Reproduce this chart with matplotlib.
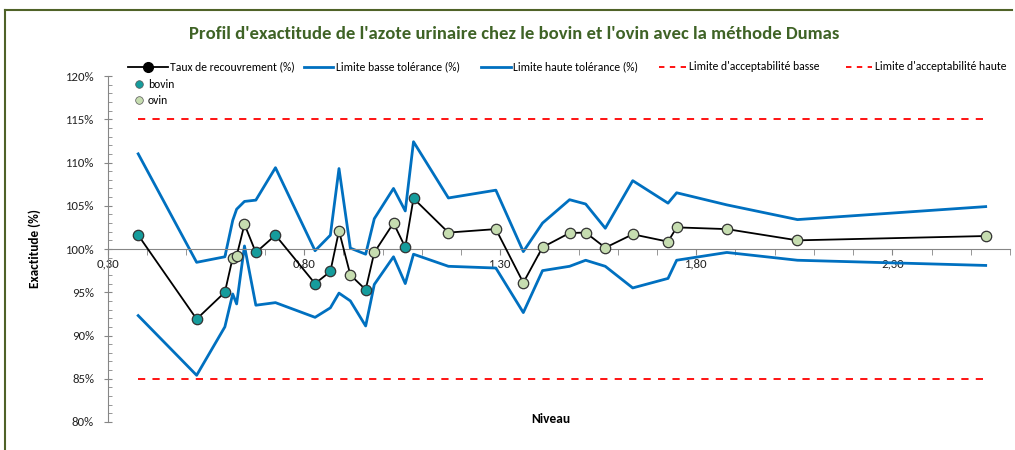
import matplotlib
matplotlib.use("Agg")
import matplotlib.pyplot as plt
from matplotlib.lines import Line2D
from matplotlib.ticker import FixedLocator, MultipleLocator, FuncFormatter
from matplotlib import font_manager

_names = {f.name for f in font_manager.fontManager.ttflist}
_fam = 'Carlito' if 'Carlito' in _names else 'Liberation Sans'
plt.rcParams['font.family'] = [_fam, 'DejaVu Sans']
narrow = _fam == 'Carlito'
k = 1.12 if narrow else 1.0

niveau = [0.377, 0.526, 0.598, 0.618, 0.628, 0.648, 0.677, 0.727, 0.828, 0.867,
          0.889, 0.918, 0.957, 0.979, 1.028, 1.058, 1.079, 1.168, 1.289, 1.359,
          1.408, 1.477, 1.518, 1.568, 1.638, 1.728, 1.750, 1.878, 2.058, 2.538]
taux = [101.6, 91.9, 95.0, 99.0, 99.2, 102.85, 99.6, 101.6, 96.0, 97.4,
        102.1, 97.0, 95.3, 99.6, 103.0, 100.2, 105.85, 101.9, 102.3, 96.1,
        100.2, 101.85, 101.9, 100.15, 101.7, 100.85, 102.5, 102.3, 101.0, 101.5]
espece = ['bovin', 'bovin', 'bovin', 'ovin', 'ovin', 'ovin', 'bovin', 'bovin', 'bovin', 'bovin',
          'ovin', 'ovin', 'bovin', 'ovin', 'ovin', 'bovin', 'bovin', 'ovin', 'ovin', 'ovin',
          'ovin', 'ovin', 'ovin', 'ovin', 'ovin', 'ovin', 'ovin', 'ovin', 'ovin', 'ovin']
tol_basse = [92.3, 85.4, 91.0, 94.8, 93.65, 100.35, 93.5, 93.8, 92.1, 93.2,
             94.9, 94.0, 91.1, 95.9, 99.1, 96.0, 99.4, 98.0, 97.8, 92.65,
             97.5, 98.0, 98.7, 98.0, 95.5, 96.6, 98.7, 99.6, 98.7, 98.1]
tol_haute = [111.0, 98.46, 99.1, 103.3, 104.6, 105.5, 105.65, 109.4, 99.8, 101.6,
             109.3, 100.1, 99.4, 103.5, 107.0, 104.4, 112.4, 105.9, 106.8, 99.7,
             103.0, 105.7, 105.2, 102.4, 107.9, 105.3, 106.5, 105.1, 103.4, 104.9]
accept_basse = 85
accept_haute = 115
x_ticks = [0.30, 0.80, 1.30, 1.80, 2.30]

title = "Profil d'exactitude de l'azote urinaire chez le bovin et l'ovin avec la méthode Dumas"

W, H = 1015, 450
fig = plt.figure(figsize=(W/100, H/100), dpi=100)
ax = fig.add_axes([108/W, 1-422/H, (1010-108)/W, (422-76)/H])

def fx(px):
    return px / W

def fy(py):
    return 1 - py / H

blue = '#0070C0'
teal = '#169C9C'
green_l = '#C6DDB0'
axcol = '#868686'
red = '#FF0000'
title_col = '#3F6326'

ax.plot(niveau, tol_basse, color=blue, lw=2, zorder=2)
ax.plot(niveau, tol_haute, color=blue, lw=2, zorder=2)
ax.plot([niveau[0], niveau[-1]], [accept_basse]*2, color=red, lw=1.3, ls=(0, (4, 4)), zorder=2)
ax.plot([niveau[0], niveau[-1]], [accept_haute]*2, color=red, lw=1.3, ls=(0, (4, 4)), zorder=2)
ax.plot(niveau, taux, color='black', lw=1.3, zorder=3)
for sp, col in (('bovin', teal), ('ovin', green_l)):
    xs = [x for x, s in zip(niveau, espece) if s == sp]
    ys = [y for y, s in zip(taux, espece) if s == sp]
    ax.plot(xs, ys, ls='none', marker='o', ms=7.5, mfc=col, mec='#333333', mew=0.9, zorder=4)

ax.set_xlim(0.3, 2.6)
ax.set_ylim(80, 120)
ax.xaxis.set_major_locator(FixedLocator(x_ticks))
ax.xaxis.set_minor_locator(MultipleLocator(0.1))
ax.yaxis.set_major_locator(MultipleLocator(5))
ax.yaxis.set_minor_locator(MultipleLocator(1))
ax.xaxis.set_major_formatter(FuncFormatter(lambda v, p: f"{v:.2f}".replace('.', ',')))
ax.yaxis.set_major_formatter(FuncFormatter(lambda v, p: f"{v:.0f}%"))
for s in ('top', 'right'):
    ax.spines[s].set_visible(False)
ax.spines['bottom'].set_position(('data', 100))
ax.spines['bottom'].set_color(axcol)
ax.spines['left'].set_color(axcol)
ax.tick_params(axis='both', which='both', colors=axcol, labelcolor='#222222', labelsize=8.2*k)
ax.tick_params(axis='x', which='both', direction='out', length=4, pad=3)
ax.tick_params(axis='y', which='major', direction='inout', length=6, pad=7)
ax.tick_params(axis='y', which='minor', direction='in', length=3)

fig.text(fx(35), fy(249), 'Exactitude (%)', rotation=90, ha='center', va='center',
         fontsize=8.5*k, fontweight='bold')
fig.text(fx(551), fy(419), 'Niveau', ha='center', va='center', fontsize=8.6*k, fontweight='bold')
fig.text(fx(514), fy(34), title, ha='center', va='center', fontsize=11.95*k,
         fontweight='bold', color=title_col)

# frame
fig.add_artist(Line2D([fx(5), fx(1012)], [fy(10)]*2, color='#4F6228', lw=1.5))
fig.add_artist(Line2D([fx(5)]*2, [0, fy(10)], color='#4F6228', lw=1.5))

# legend (drawn manually to match the reference layout)
ly = fy(67)
lfs = 7.5 * k
leg_items = [
    ('Taux de recouvrement (%)', 128, 168, dict(color='black', lw=1.3), 170),
    ('Limite basse tolérance (%)', 304, 333, dict(color=blue, lw=2), 336),
    ('Limite haute tolérance (%)', 481, 511, dict(color=blue, lw=2), 513),
    ("Limite d'acceptabilité basse", 659, 686, dict(color=red, lw=1.3, ls=(0, (3, 3))), 689),
    ("Limite d'acceptabilité haute", 846, 872, dict(color=red, lw=1.3, ls=(0, (3, 3))), 875),
]
for label, x0, x1, style, tx in leg_items:
    fig.add_artist(Line2D([fx(x0), fx(x1)], [ly, ly], **style))
    fig.text(fx(tx), ly, label, ha='left', va='center', fontsize=lfs)
fig.add_artist(Line2D([fx(148)], [ly], ls='none', marker='o', ms=7, mfc='black', mec='black'))
for label, py, col in (('bovin', 84, teal), ('ovin', 100, green_l)):
    fig.add_artist(Line2D([fx(139)], [fy(py)], ls='none', marker='o', ms=5.5, mfc=col,
                          mec='#555555', mew=0.5))
    fig.text(fx(148), fy(py), label, ha='left', va='center', fontsize=lfs)

fig.savefig('out.png', dpi=100)
